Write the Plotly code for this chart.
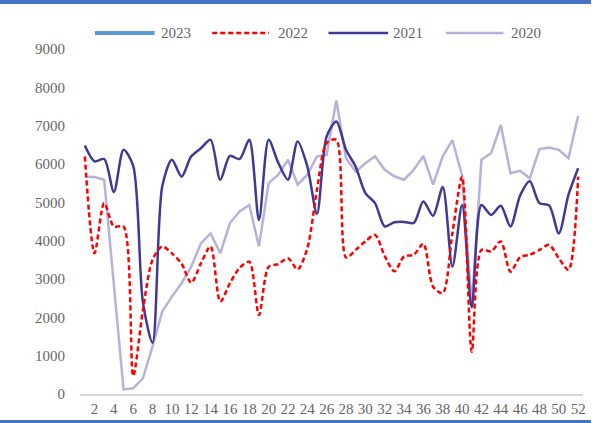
import plotly.graph_objects as go

weeks = list(range(1, 53))
tick_weeks = list(range(2, 53, 2))
y_ticks = list(range(0, 9001, 1000))

s2023 = []
s2022 = [6200, 3670, 4980, 4370, 4370, 470, 2190, 3500, 3850, 3670,
         3400, 2900, 3410, 3850, 2410, 2890, 3290, 3450, 2060, 3320,
         3390, 3540, 3250, 3800, 5330, 6550, 6630, 3560, 3760, 3980,
         4150, 3600, 3200, 3590, 3630, 3920, 2800, 2630, 4200, 5670,
         1100, 3760, 3720, 3980, 3190, 3570, 3630, 3760, 3890, 3540,
         3240, 5670]
s2021 = [6480, 6070, 6130, 5270, 6370, 5950, 2400, 1340, 5410, 6110,
         5670, 6200, 6410, 6630, 5590, 6210, 6130, 6630, 4540, 6630,
         6030, 5590, 6590, 5940, 4700, 6720, 7110, 6370, 5930, 5240,
         4980, 4370, 4480, 4490, 4460, 5020, 4650, 5400, 3320, 4930,
         2260, 4930, 4670, 4910, 4370, 5180, 5550, 4980, 4920, 4190,
         5200, 5890]
s2020 = [5670, 5660, 5590, 2800, 120, 150, 410, 1240, 2150, 2540,
         2890, 3320, 3930, 4190, 3670, 4460, 4760, 4930, 3850, 5500,
         5720, 6110, 5460, 5720, 6200, 6240, 7660, 6150, 5800, 6020,
         6200, 5850, 5680, 5590, 5850, 6210, 5460, 6200, 6620, 5700,
         2300, 6110, 6280, 7020, 5760, 5820, 5630, 6390, 6430, 6370,
         6150, 7260]

C2023 = "#5B9BD5"
C2022 = "#FF0000"
C2021 = "#3F3A96"
C2020 = "#B6B2D9"
FONT = "Liberation Serif"
TXT = "#666666"

W, H = 592, 423
ML, MR, MT, MB = 80, 6, 49, 29
PW, PH = W - ML - MR, H - MT - MB

def px(x):
    return (x - ML) / PW

def py(y):
    return (H - MB - y) / PH

fig = go.Figure()
fig.add_trace(go.Scatter(x=weeks[:len(s2023)], y=s2023, mode="lines", name="2023",
                         line=dict(color=C2023, width=4), showlegend=False))
fig.add_trace(go.Scatter(x=weeks, y=s2020, mode="lines", name="2020",
                         line=dict(color=C2020, width=2.5), showlegend=False))
fig.add_trace(go.Scatter(x=weeks, y=s2021, mode="lines", name="2021",
                         line=dict(color=C2021, width=2.5, shape="spline", smoothing=0.8),
                         showlegend=False))
fig.add_trace(go.Scatter(x=weeks, y=s2022, mode="lines", name="2022",
                         line=dict(color=C2022, width=2.5, dash="5px,3px",
                                   shape="spline", smoothing=0.8),
                         showlegend=False))

shapes = []
annotations = []
# custom legend
legend_items = [
    ("2023", C2023, 4, "solid", 95, 155, 159),
    ("2022", C2022, 2.5, "5px,3px", 213, 270, 277),
    ("2021", C2021, 2.5, "solid", 330, 390, 393),
    ("2020", C2020, 2.5, "solid", 448, 506, 512),
]
LY = 33
for name, col, w, dash, x0, x1, xt in legend_items:
    shapes.append(dict(type="line", xref="paper", yref="paper",
                       x0=px(x0), x1=px(x1), y0=py(LY), y1=py(LY),
                       line=dict(color=col, width=w, dash=dash)))
    annotations.append(dict(text=name, xref="paper", yref="paper",
                            x=px(xt), y=py(LY), xanchor="left", yanchor="middle",
                            showarrow=False, font=dict(family=FONT, size=15, color=TXT)))
# frame bands
shapes.append(dict(type="rect", xref="paper", yref="paper", x0=px(-2), x1=px(W + 2),
                   y0=py(-3), y1=py(4), fillcolor="#4472C4", line=dict(width=0)))
shapes.append(dict(type="rect", xref="paper", yref="paper", x0=px(-2), x1=px(W + 2),
                   y0=py(420), y1=py(H + 3), fillcolor="#4472C4", line=dict(width=0)))

fig.update_layout(
    width=W, height=H,
    margin=dict(l=ML, r=MR, t=MT, b=MB, pad=0),
    paper_bgcolor="white", plot_bgcolor="white",
    showlegend=False,
    shapes=shapes, annotations=annotations,
    xaxis=dict(range=[0.5, 52.5], tickmode="array", tickvals=tick_weeks,
               ticktext=[str(t) for t in tick_weeks],
               showgrid=False, zeroline=False, showline=True,
               linecolor="#D9D9D9", linewidth=2, ticks="",
               tickfont=dict(family=FONT, size=15, color=TXT)),
    yaxis=dict(range=[0, 9000], tickmode="array", tickvals=y_ticks,
               showgrid=False, zeroline=False, showline=False, ticks="",
               ticklabelstandoff=14,
               tickfont=dict(family=FONT, size=15, color=TXT)),
)

fig.write_html("out.html", config={"displayModeBar": False},
               post_script="document.body.style.margin='0';document.body.style.overflow='hidden';")
